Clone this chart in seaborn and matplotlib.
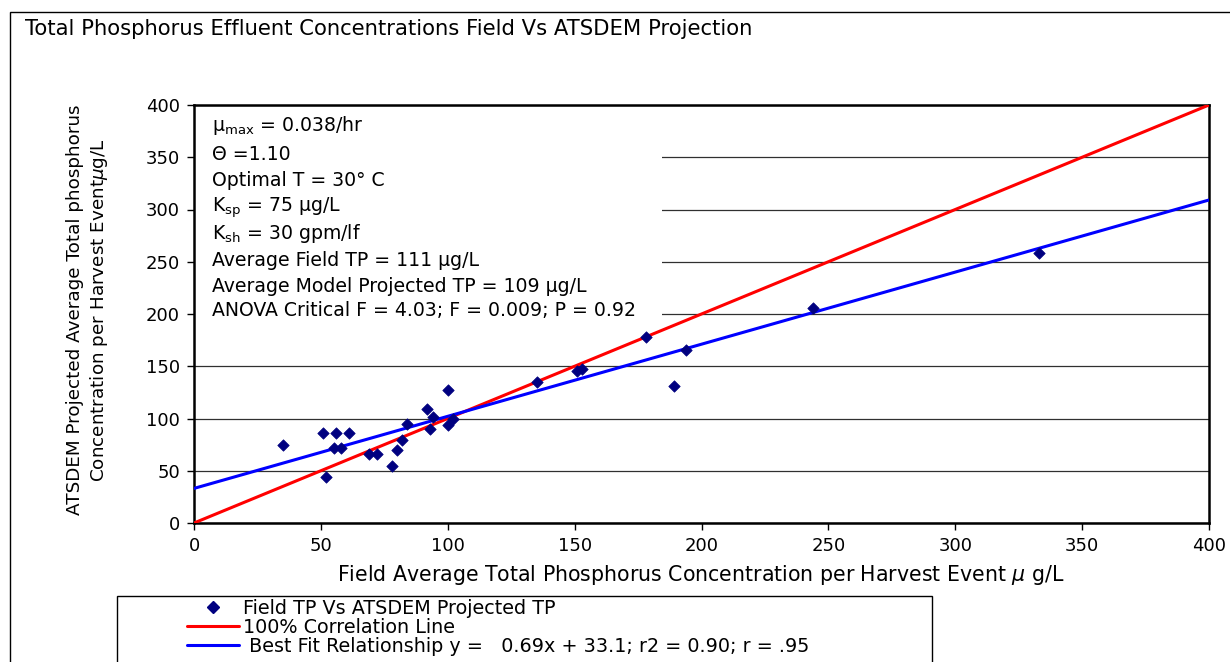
import matplotlib
matplotlib.use("Agg")
import matplotlib.pyplot as plt
from matplotlib.patches import Rectangle
from matplotlib.lines import Line2D
import seaborn as sns
import pandas as pd

# ---- data ----
field_tp = [35, 51, 56, 61, 55, 58, 52, 69, 72, 78, 80, 82, 84, 92, 94, 93,
            100, 100, 102, 135, 151, 153, 178, 194, 189, 244, 333]
model_tp = [75, 86, 86, 86, 72, 72, 44, 66, 66, 55, 70, 79, 95, 109, 101, 90,
            127, 94, 100, 135, 145, 147, 178, 166, 131, 206, 258]
line_x = [0, 400]
fit_slope = 0.69
fit_intercept = 33.1
ticks = [0, 50, 100, 150, 200, 250, 300, 350, 400]

title = "Total Phosphorus Effluent Concentrations Field Vs ATSDEM Projection"
xlabel = "Field Average Total Phosphorus Concentration per Harvest Event $\\mu$ g/L"
ylabel = "ATSDEM Projected Average Total phosphorus\nConcentration per Harvest Event$\\mu$g/L"
info_lines = [
    "µ$_{\\mathrm{max}}$ = 0.038/hr",
    "Θ =1.10",
    "Optimal T = 30° C",
    "K$_{\\mathrm{sp}}$ = 75 µg/L",
    "K$_{\\mathrm{sh}}$ = 30 gpm/lf",
    "Average Field TP = 111 µg/L",
    "Average Model Projected TP = 109 µg/L",
    "ANOVA Critical F = 4.03; F = 0.009; P = 0.92",
]
legend_labels = [
    "Field TP Vs ATSDEM Projected TP",
    "100% Correlation Line",
    " Best Fit Relationship y =   0.69x + 33.1; r2 = 0.90; r = .95",
]

sns.set_theme(style="white")
plt.rcParams["font.family"] = ["DejaVu Sans"]
plt.rcParams["mathtext.fontset"] = "dejavusans"
plt.rcParams["text.color"] = "black"
plt.rcParams["axes.labelcolor"] = "black"
plt.rcParams["xtick.color"] = "black"
plt.rcParams["ytick.color"] = "black"

W, H = 1230, 662
fig = plt.figure(figsize=(W / 100, H / 100), dpi=100)
fig.patch.set_facecolor("white")

def fx(px):
    return px / W

def fy(py):
    return (H - py) / H

ax = fig.add_axes([fx(194), fy(523), (1209 - 194) / W, (523 - 105) / H])

df = pd.DataFrame({"field": field_tp, "model": model_tp})
lines_df = pd.DataFrame({
    "x": line_x,
    "ideal": line_x,
    "fit": [fit_slope * v + fit_intercept for v in line_x],
})

ax.set_ylim(0, 400)
ax.set_xlim(0, 400)
ax.set_yticks(ticks)
ax.set_xticks(ticks)
ax.yaxis.grid(True, color="#303030", linewidth=0.9, zorder=0)
ax.xaxis.grid(False)
ax.set_axisbelow(True)

sns.lineplot(data=lines_df, x="x", y="ideal", ax=ax, color="#ff0000",
             linewidth=2.2, zorder=3)
sns.lineplot(data=lines_df, x="x", y="fit", ax=ax, color="#0000ff",
             linewidth=2.2, zorder=3)
sns.scatterplot(data=df, x="field", y="model", ax=ax, marker="D", s=34,
                color="#000080", edgecolor="#000080", linewidth=0.5, zorder=4)

# white text box covering gridlines
ax.add_patch(Rectangle((0.001, (523 - 327) / 418), (662 - 195) / 1015,
                       (327 - 108) / 418, transform=ax.transAxes,
                       facecolor="white", edgecolor="none", zorder=2))
baselines = [131, 160, 186, 212, 239, 266, 292, 316]
for txt, b in zip(info_lines, baselines):
    ax.text((212 - 194) / 1015, (523 - b) / 418, txt, transform=ax.transAxes,
            fontsize=13.6, va="baseline", ha="left", color="black", zorder=5)

ax.set_xlabel("")
ax.set_ylabel("")
for s in ax.spines.values():
    s.set_visible(True)
    s.set_color("black")
    s.set_linewidth(1.8)
ax.tick_params(axis="both", direction="out", length=5, width=1, color="black",
               labelsize=13, labelcolor="black", pad=5,
               bottom=True, left=True)
ax.set_xticklabels([str(t) for t in ticks])
ax.set_yticklabels([str(t) for t in ticks])

fig.text(fx(701), fy(575), xlabel, ha="center", va="center", fontsize=14.8,
         color="black")
fig.text(fx(88), fy(310), ylabel, ha="center", va="center", fontsize=13.2,
         rotation=90, linespacing=1.3, multialignment="center", color="black")
fig.text(fx(25), fy(29), title, ha="left", va="center", fontsize=15.2,
         color="black")

# outer chart border
fig.patches.append(Rectangle((fx(10), -0.1), 1.2, fy(12) + 0.1,
                             transform=fig.transFigure, facecolor="none",
                             edgecolor="black", linewidth=1.0))
# legend box
fig.patches.append(Rectangle((fx(117), -0.1), fx(932) - fx(117), fy(596) + 0.1,
                             transform=fig.transFigure, facecolor="white",
                             edgecolor="black", linewidth=1.0))

handles = [
    Line2D([], [], linestyle="none", marker="D", markersize=6,
           color="#000080"),
    Line2D([], [], color="#ff0000", linewidth=2.2),
    Line2D([], [], color="#0000ff", linewidth=2.2),
]
leg = fig.legend(handles, legend_labels, loc="upper left",
                 bbox_to_anchor=(fx(187), fy(599)), frameon=False,
                 fontsize=13.8, borderpad=0, borderaxespad=0,
                 handlelength=2.7, handletextpad=0.2, labelspacing=0.0)
for t in leg.get_texts():
    t.set_color("black")

fig.savefig("out.png", dpi=100)
